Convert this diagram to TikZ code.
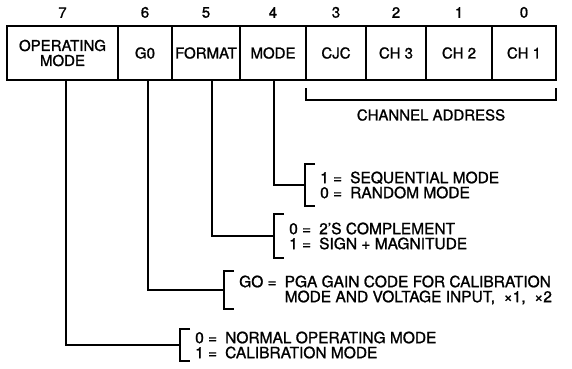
\documentclass[tikz,border=0pt]{standalone}
\usepackage{fontspec}
\setmainfont{TeX Gyre Heros}[FakeBold=1.2]
\usetikzlibrary{positioning,calc}
\newcommand\eqs{\ =\hspace{8pt}}
\tikzset{
  regBox/.style={rectangle,draw,line width=2pt,outer sep=0pt,inner sep=0pt,
                 minimum width=#1,minimum height=54pt,align=center},
  bitNum/.style={inner sep=0pt},
  wireLine/.style={line width=2pt},
  descText/.style={anchor=west,inner sep=0pt,align=left,font=\fontsize{15.5}{15}\selectfont},
}

\begin{document}
\begin{tikzpicture}[x=1pt,y=1pt,font=\fontsize{15}{15}\selectfont]
  \useasboundingbox (0,0) rectangle (572,-368);
  \node[regBox=111pt,anchor=north west](opm) at (7,-26){OPERATING\\MODE};
  \node[regBox=54pt,right=0pt of opm](gz){G0};
  \node[regBox=68pt,right=0pt of gz](fmt){FORMAT};
  \node[regBox=66pt,right=0pt of fmt](mode){MODE};
  \node[regBox=60pt,right=0pt of mode](cjc){CJC};
  \node[regBox=60pt,right=0pt of cjc](chc){CH 3};
  \node[regBox=66pt,right=0pt of chc](chb){CH 2};
  \node[regBox=64pt,right=0pt of chb](cha){CH 1};
  \foreach \n/\b in {opm/7,gz/6,fmt/5,mode/4,cjc/3,chc/2,chb/1,cha/0}{\node[bitNum,above=8pt of \n](bit\b){\b};}
  % channel address
  \draw[wireLine]([yshift=-8pt]cjc.south west) -- ++(0,-12) -| ([yshift=-8pt]cha.south east);
  \node(chan) at ($(cjc.south west)!0.5!(cha.south east)+(0,-35)$){CHANNEL ADDRESS};
  % bit meanings
  \node[descText](dMode) at (320,-185){1\eqs SEQUENTIAL MODE\\0\eqs RANDOM MODE};
  \node[descText](dFmt) at (289,-236){0\eqs 2'S COMPLEMENT\\1\eqs SIGN + MAGNITUDE};
  \node[descText](dGain) at (239,-290){GO\eqs PGA GAIN CODE FOR CALIBRATION\\\phantom{GO\eqs}MODE AND VOLTAGE INPUT,\ \ ×1,\ \ ×2};
  \node[descText](dOpm) at (195,-345){0\eqs NORMAL OPERATING MODE\\1\eqs CALIBRATION MODE};
  \foreach \d/\h in {dMode/21,dFmt/22,dGain/19,dOpm/16}{
    \draw[wireLine]([xshift=-5pt,yshift=\h pt]\d.west) -- ++(-10,0) -- ++(0,-2*\h) -- ++(10,0);}
  \foreach \b/\d/\s in {mode/dMode/1,fmt/dFmt/6,gz/dGain/3,opm/dOpm/3}{
    \draw[wireLine]([xshift=\s pt]\b.south) |- ([xshift=-15pt]\d.west);}
\end{tikzpicture}
\end{document}
